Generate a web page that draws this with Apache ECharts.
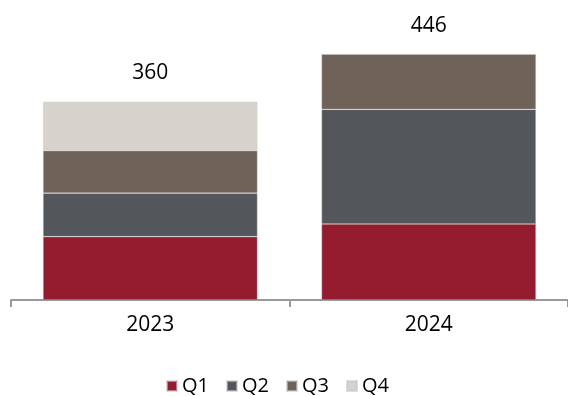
<!DOCTYPE html>
<html>
<head>
<meta charset="utf-8">
<script src="https://cdn.jsdelivr.net/npm/echarts@6/dist/echarts.min.js"></script>
<style>
  html, body { margin: 0; padding: 0; background: #ffffff; }
  #chart { width: 568px; height: 396px; }
</style>
</head>
<body>
<div id="chart"></div>
<script>
const categories = ['2023', '2024'];
const q1 = [115, 138];
const q2 = [79, 208];
const q3 = [77, 100];
const q4 = [89, null];
const totals = [360, 446];
const seriesNames = ['Q1', 'Q2', 'Q3', 'Q4'];
const colors = ['#951B2F', '#53565B', '#6E6259', '#D7D2CB'];

const FONT = 'Open Sans';
const chart = echarts.init(document.getElementById('chart'), null, { renderer: 'canvas' });

const stackData = [q1, q2, q3, q4];
const barSeries = stackData.map((d, i) => ({
  name: seriesNames[i],
  type: 'bar',
  stack: 'total',
  data: d,
  barWidth: '77%',
  itemStyle: { color: colors[i], borderColor: 'rgba(200,200,200,0.6)', borderWidth: 0.6 },
  emphasis: { disabled: true }
}));

chart.setOption({
  animation: false,
  textStyle: { fontFamily: FONT },
  grid: { left: 11, right: -1, top: 24.5, bottom: 96, containLabel: false },
  legend: {
    data: seriesNames,
    left: 161,
    top: 371,
    itemWidth: 10,
    itemHeight: 10,
    itemGap: 17,
    icon: 'rect',
    textStyle: { fontFamily: FONT, fontSize: 20, color: '#000' }
  },
  xAxis: {
    type: 'category',
    data: categories,
    axisLine: { show: true, lineStyle: { color: '#9a9a9a', width: 2 } },
    axisTick: { show: true, length: 7, lineStyle: { color: '#9a9a9a', width: 2 } },
    axisLabel: { fontFamily: FONT, fontSize: 21, color: '#000', margin: 15 }
  },
  yAxis: {
    type: 'value',
    min: 0,
    max: 500,
    show: false,
    splitLine: { show: false }
  },
  series: [
    ...barSeries,
    {
      name: 'Total',
      type: 'scatter',
      data: totals,
      symbolSize: 0,
      silent: true,
      itemStyle: { opacity: 1 },
      label: {
        show: true,
        position: 'top',
        distance: 18,
        fontFamily: FONT,
        fontSize: 21,
        color: '#000',
        opacity: 1
      }
    }
  ]
});
</script>
</body>
</html>
